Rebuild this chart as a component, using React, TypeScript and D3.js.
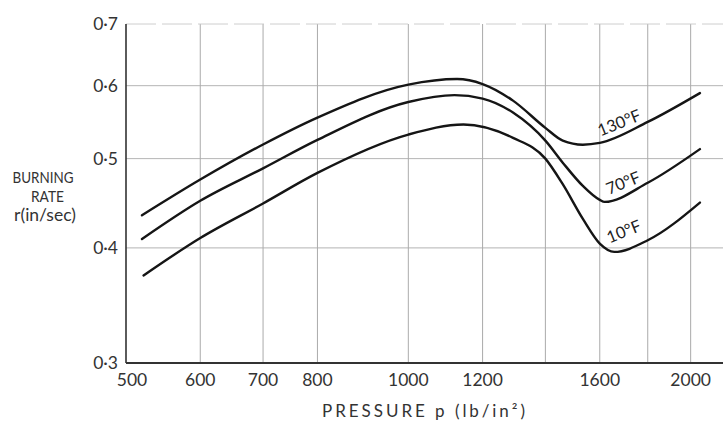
import React from "react";
import * as d3 from "d3";

// ---- data ----
const pressure130 = [520, 600, 700, 800, 1000, 1127, 1200, 1293, 1400, 1461, 1535, 1600, 1800, 2046];
const rate130 = [0.434, 0.4745, 0.518, 0.554, 0.6016, 0.61, 0.6025, 0.578, 0.54, 0.523, 0.5177, 0.52, 0.548, 0.589];

const pressure70 = [520, 600, 700, 800, 1000, 1120, 1200, 1293, 1400, 1461, 1535, 1600, 1619, 1800, 2046];
const rate70 = [0.409, 0.45, 0.488, 0.524, 0.576, 0.586, 0.581, 0.561, 0.523, 0.495, 0.467, 0.451, 0.4488, 0.4707, 0.512];

const pressure10 = [522, 600, 700, 800, 1000, 1145, 1293, 1400, 1461, 1535, 1600, 1658, 1800, 2046];
const rate10 = [0.3734, 0.41, 0.447, 0.4825, 0.531, 0.5445, 0.5266, 0.5, 0.469, 0.43, 0.4043, 0.396, 0.4077, 0.448];

const seriesNames = ["130°F", "70°F", "10°F"];
const labelPressure = [1678, 1694, 1697];
const labelRate = [0.547, 0.4707, 0.417];

const xTickLabels = [500, 600, 700, 800, 1000, 1200, 1600, 2000];
const xGridValues = [600, 700, 800, 1000, 1200, 1400, 1600, 1800, 2000];
const yTickLabels = [0.3, 0.4, 0.5, 0.6, 0.7];
const yGridValues = [0.4, 0.5, 0.6, 0.7];

const W = 723;
const H = 424;
const FONT = "Lato, 'Open Sans', sans-serif";

export default function App() {
  const x = d3.scaleLog().domain([500, 2160]).range([126, 722]);
  const y = d3.scaleLog().domain([0.3, 0.7]).range([363, 24]);

  const line = d3
    .line<[number, number]>()
    .x((d) => x(d[0]))
    .y((d) => y(d[1]))
    .curve(d3.curveMonotoneX);

  const series = [
    d3.zip(pressure130, rate130) as [number, number][],
    d3.zip(pressure70, rate70) as [number, number][],
    d3.zip(pressure10, rate10) as [number, number][],
  ];

  const fmt = (v: number) => v.toFixed(1).replace(".", "·");

  return (
    <svg
      width={W}
      height={H}
      style={{ position: "absolute", left: 0, top: 0, background: "#fff" }}
      fontFamily={FONT}
    >
      {/* grid */}
      <g stroke="#a0a0a0" strokeWidth={0.9}>
        {xGridValues.map((v) => (
          <line key={"gx" + v} x1={x(v)} x2={x(v)} y1={y(0.7)} y2={y(0.3)} />
        ))}
        {yGridValues.map((v) => (
          <line
            key={"gy" + v}
            x1={x(500)}
            x2={W}
            y1={y(v)}
            y2={y(v)}
            strokeDasharray={v === 0.7 ? "30 6" : undefined}
            stroke={v === 0.7 ? "#c8c8c8" : "#ababab"}
          />
        ))}
      </g>

      {/* axes */}
      <line x1={x(500)} x2={x(500)} y1={y(0.7)} y2={y(0.3)} stroke="#333" strokeWidth={1.6} />
      <line x1={x(500)} x2={W} y1={y(0.3)} y2={y(0.3)} stroke="#333" strokeWidth={1.8} />

      {/* y tick labels */}
      <g fill="#333" fontSize={17.5} textAnchor="end">
        {yTickLabels.map((v) => (
          <text key={"yl" + v} x={x(500) - 8} y={y(v)} dy="0.36em">
            {fmt(v)}
          </text>
        ))}
      </g>

      {/* x tick labels */}
      <g fill="#333" fontSize={17.5} textAnchor="middle">
        {xTickLabels.map((v, i) => (
          <text key={"xl" + v} x={x(v) + (i === 0 ? 6 : 0)} y={y(0.3) + 17} dy="0.36em">
            {v}
          </text>
        ))}
      </g>

      {/* axis titles */}
      <text
        x={322}
        y={417}
        fill="#333"
        fontSize={17}
        textLength={203}
        lengthAdjust="spacing"
      >
        PRESSURE p (lb/in²)
      </text>
      <g fill="#333" fontSize={15}>
        <text x={12.5} y={183} textLength={61} lengthAdjust="spacingAndGlyphs">BURNING</text>
        <text x={31} y={201.5} textLength={33} lengthAdjust="spacingAndGlyphs">RATE</text>
        <text x={45} y={221} fontSize={17.5} textAnchor="middle">r(in/sec)</text>
      </g>

      {/* curves */}
      <g fill="none" stroke="#151515" strokeWidth={2.4} strokeLinecap="round">
        {series.map((s, i) => (
          <path key={"s" + i} d={line(s) || ""} />
        ))}
      </g>

      {/* curve labels */}
      <g fill="#222" fontSize={16.5} textAnchor="middle">
        {seriesNames.map((n, i) => (
          <text
            key={"lab" + i}
            transform={`translate(${x(labelPressure[i])},${y(labelRate[i])}) rotate(-22)`}
            dy="0.36em"
          >
            {n}
          </text>
        ))}
      </g>
    </svg>
  );
}
